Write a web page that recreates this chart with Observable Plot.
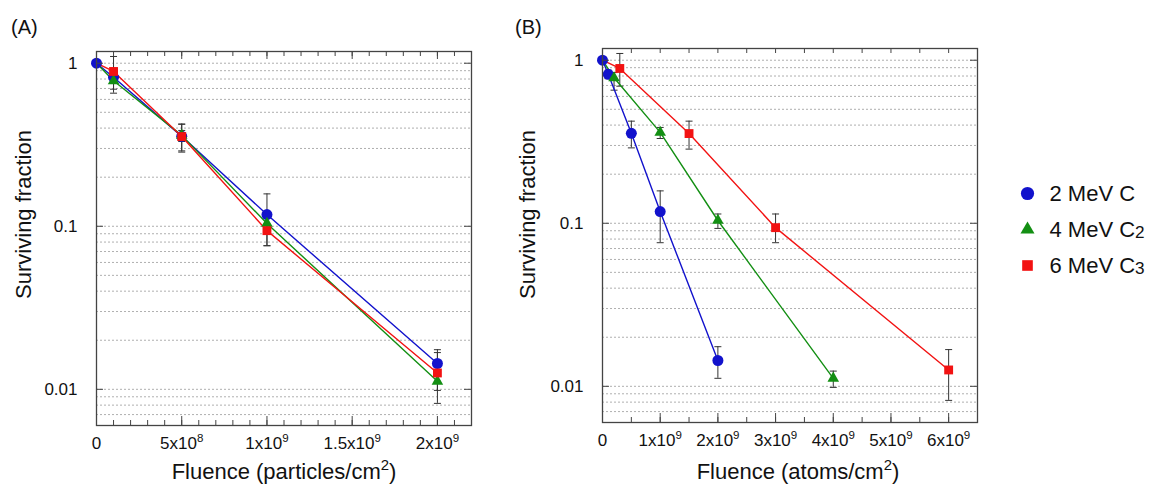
<!DOCTYPE html>
<html><head><meta charset="utf-8">
<script src="https://cdn.jsdelivr.net/npm/d3@7"></script>
<script src="https://cdn.jsdelivr.net/npm/@observablehq/plot@0.6"></script>
<style>
body{margin:0;background:#fff;font-family:"Liberation Sans",Arial,Helvetica,sans-serif}
#wrap{position:relative;width:1150px;height:485px;overflow:hidden;background:#fff}
#wrap svg{position:absolute;top:0;font-family:"Liberation Sans",Arial,Helvetica,sans-serif}
.plabel{position:absolute;font-size:20px;color:#111;line-height:1}
</style></head><body>
<div id="wrap"></div>
<script>
// ---------- data ----------
const ionNames = ["2 MeV C", "4 MeV C₂", "6 MeV C₃"];
const atomsPerIon = [1, 2, 3];
const ionColors = ["#1212cc", "#138f13", "#f21212"];
const ionSymbols = ["circle", "triangle", "square"];
const ionRadius = [5.5, 4.3, 5.0];
const legendRadius = [6.6, 5.2, 6.0];

const fluenceParticles = [0, 1e8, 5e8, 1e9, 2e9];
const survC1 = [1, 0.82, 0.356, 0.118, 0.0144];
const survC2 = [1, 0.78, 0.361, 0.104, 0.0112];
const survC3 = [1, 0.89, 0.355, 0.094, 0.0126];
const errLoC1 = [1, 0.77, 0.29, 0.076, 0.0112];
const errHiC1 = [1, 0.87, 0.423, 0.158, 0.0175];
const errLoC2 = [1, 0.655, 0.331, 0.093, 0.00985];
const errHiC2 = [1, 0.84, 0.387, 0.114, 0.0124];
const errLoC3 = [1, 0.693, 0.285, 0.076, 0.0082];
const errHiC3 = [1, 1.10, 0.423, 0.114, 0.0168];

const xTicksA = [0, 5e8, 1e9, 1.5e9, 2e9];
const xTickLabelsA = ["0", "5x10⁸", "1x10⁹", "1.5x10⁹", "2x10⁹"];
const xTicksB = [0, 1e9, 2e9, 3e9, 4e9, 5e9, 6e9];
const xTickLabelsB = ["0", "1x10⁹", "2x10⁹", "3x10⁹", "4x10⁹", "5x10⁹", "6x10⁹"];
const yTicks = [1, 0.1, 0.01];
const yTickLabels = ["1", "0.1", "0.01"];
const yGrid = [0.007, 0.008, 0.009, 0.01, 0.02, 0.03, 0.04, 0.05, 0.06, 0.07, 0.08, 0.09,
               0.1, 0.2, 0.3, 0.4, 0.5, 0.6, 0.7, 0.8, 0.9, 1];
const yTitle = "Surviving fraction";
const xTitleA = "Fluence (particles/cm²)";
const xTitleB = "Fluence (atoms/cm²)";

// ---------- build ----------
const survAll = [survC1, survC2, survC3];
const loAll = [errLoC1, errLoC2, errLoC3];
const hiAll = [errHiC1, errHiC2, errHiC3];
const FONT = '"Liberation Sans",Arial,Helvetica,sans-serif';
const capSymbol = {draw(ctx) { ctx.moveTo(-3.5, 0); ctx.lineTo(3.5, 0); }};

function rowsFor(s, perAtom) {
  const m = perAtom ? atomsPerIon[s] : 1;
  return fluenceParticles.map((f, i) => ({x: f * m, y: survAll[s][i], lo: loAll[s][i], hi: hiAll[s][i]}));
}

function panel(o) {
  const fh = o.height - o.mt - o.mb, fw = o.width - o.ml - o.mr;
  const minor = d3.range(0, o.xDomain[1] + 1, o.minorStep);
  const marks = [
    Plot.ruleY(yGrid, {y: d => d, stroke: "#9a9a9a", strokeWidth: 0.8, strokeDasharray: "2,2"})
  ];
  const series = [0, 1, 2].map(s => rowsFor(s, o.perAtom));
  series.forEach((rows) => {
    const eb = rows.filter(d => d.hi !== d.lo);
    marks.push(
      Plot.ruleX(eb, {x: "x", y1: "lo", y2: "hi", stroke: "#333", strokeWidth: 1}),
      Plot.dot(eb, {x: "x", y: "lo", symbol: capSymbol, fill: "none", stroke: "#333", strokeWidth: 1}),
      Plot.dot(eb, {x: "x", y: "hi", symbol: capSymbol, fill: "none", stroke: "#333", strokeWidth: 1})
    );
  });
  series.forEach((rows, s) => {
    marks.push(Plot.line(rows, {x: "x", y: "y", stroke: ionColors[s], strokeWidth: 1.4}));
  });
  series.forEach((rows, s) => {
    const pts = s === 0 ? rows : rows.filter(d => d.x !== 0);
    marks.push(Plot.dot(pts, {x: "x", y: "y", symbol: ionSymbols[s], fill: ionColors[s], stroke: "none", r: ionRadius[s]}));
  });
  marks.push(
    Plot.frame({stroke: "#444", strokeWidth: 1.3}),
    Plot.ruleX(minor, {x: d => d, insetTop: fh - 5, stroke: "#444"}),
    Plot.ruleX(o.majors, {x: d => d, insetTop: fh - 9, stroke: "#444"}),
    Plot.ruleX(minor, {x: d => d, insetBottom: fh - 5, stroke: "#444"}),
    Plot.ruleX(o.topMajors, {x: d => d, insetBottom: fh - 8, stroke: "#444"}),
    Plot.ruleY(yTicks, {y: d => d, insetRight: fw - 7, stroke: "#444"}),
    Plot.ruleY(yTicks, {y: d => d, insetLeft: fw - 7, stroke: "#444"}),
    Plot.text(o.majors, {x: d => d, text: (d, i) => o.labels[i], frameAnchor: "bottom", lineAnchor: "top", textAnchor: "middle", dy: 11, fontSize: 17, fill: "#111"}),
    Plot.text(yTicks, {y: d => d, text: (d, i) => yTickLabels[i], frameAnchor: "left", textAnchor: "end", dx: -19, fontSize: 17, fill: "#111"}),
    Plot.text([yTitle], {frameAnchor: "left", textAnchor: "middle", lineAnchor: "middle", rotate: -90, dx: o.yTitleDx, dy: o.yTitleDy, fontSize: 22, fill: "#111"}),
    Plot.text([o.xTitle], {frameAnchor: "bottom", textAnchor: "middle", lineAnchor: "middle", dx: o.xTitleDx, dy: o.xTitleDy, fontSize: 22, fill: "#111"})
  );
  return Plot.plot({
    width: o.width, height: o.height,
    marginLeft: o.ml, marginRight: o.mr, marginTop: o.mt, marginBottom: o.mb,
    x: {domain: o.xDomain, axis: null},
    y: {type: "log", domain: [0.006, 1.18], axis: null},
    style: {fontFamily: FONT, background: "transparent", overflow: "visible"},
    marks
  });
}

// turn unicode super/subscript digits into smaller shifted tspans
const SUP = {"⁰":"0","¹":"1","²":"2","³":"3","⁴":"4","⁵":"5","⁶":"6","⁷":"7","⁸":"8","⁹":"9"};
const SUB = {"₀":"0","₁":"1","₂":"2","₃":"3","₄":"4","₅":"5","₆":"6","₇":"7","₈":"8","₉":"9"};
function scripts(svg) {
  svg.querySelectorAll("text").forEach(t => {
    if (t.children.length) return;
    const s = t.textContent;
    if (![...s].some(c => SUP[c] || SUB[c])) return;
    const fs = parseFloat(getComputedStyle(t).fontSize) || 16;
    const runs = [];
    for (const c of s) {
      const k = SUP[c] ? "sup" : SUB[c] ? "sub" : "n";
      const ch = SUP[c] || SUB[c] || c;
      if (runs.length && runs[runs.length - 1].k === k) runs[runs.length - 1].s += ch;
      else runs.push({k, s: ch});
    }
    t.textContent = "";
    let cur = 0;
    const NS = "http://www.w3.org/2000/svg";
    runs.forEach(r => {
      const sp = document.createElementNS(NS, "tspan");
      const target = r.k === "sup" ? -0.40 * fs : r.k === "sub" ? 0.06 * fs : 0;
      if (target !== cur) sp.setAttribute("dy", (target - cur).toFixed(2));
      cur = target;
      if (r.k === "sup") sp.setAttribute("font-size", (0.68 * fs).toFixed(2));
      if (r.k === "sub") sp.setAttribute("font-size", (0.78 * fs).toFixed(2));
      sp.textContent = r.s;
      t.appendChild(sp);
    });
  });
}

const wrap = document.getElementById("wrap");

const pA = panel({
  width: 500, height: 485, ml: 96, mr: 29, mt: 51, mb: 60,
  xDomain: [0, 2.2e9], minorStep: 1e8, majors: xTicksA, topMajors: xTicksA, labels: xTickLabelsA,
  perAtom: false, xTitle: xTitleA, xTitleDx: 0, xTitleDy: 46, yTitleDx: -73, yTitleDy: -24
});
pA.style.left = "0px";
wrap.appendChild(pA);

const pB = panel({
  width: 500, height: 485, ml: 102, mr: 23, mt: 48, mb: 63,
  xDomain: [0, 6.5e9], minorStep: 5e8, majors: xTicksB, topMajors: [], labels: xTickLabelsB,
  perAtom: true, xTitle: xTitleB, xTitleDx: 8, xTitleDy: 49, yTitleDx: -75, yTitleDy: -21
});
pB.style.left = "500px";
wrap.appendChild(pB);

// legend
const legendMarks = [];
ionNames.forEach((n, s) => {
  legendMarks.push(Plot.dot([n], {y: d => d, frameAnchor: "left", dx: 27, symbol: ionSymbols[s], fill: ionColors[s], stroke: "none", r: legendRadius[s]}));
});
legendMarks.push(Plot.text(ionNames, {y: d => d, frameAnchor: "left", dx: 49, textAnchor: "start", lineAnchor: "middle", fontSize: 22, fill: "#111"}));
const leg = Plot.plot({
  width: 150, height: 485, marginLeft: 0, marginRight: 0, marginTop: 0, marginBottom: 0,
  y: {type: "point", domain: ionNames, range: [192, 265], padding: 0, axis: null},
  style: {fontFamily: FONT, background: "transparent", overflow: "visible"},
  marks: legendMarks
});
leg.style.left = "1000px";
wrap.appendChild(leg);

[pA, pB, leg].forEach(scripts);

// panel letters
[["(A)", 11], ["(B)", 515]].forEach(([t, x]) => {
  const d = document.createElement("div");
  d.className = "plabel"; d.textContent = t;
  d.style.left = x + "px"; d.style.top = "17px";
  wrap.appendChild(d);
});
</script>
</body></html>
